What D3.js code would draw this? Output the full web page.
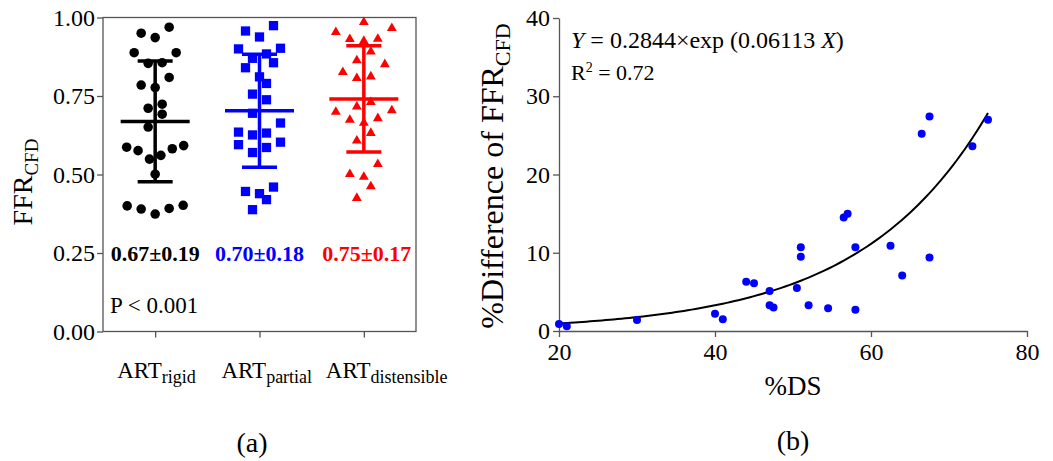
<!DOCTYPE html>
<html>
<head>
<meta charset="utf-8">
<script src="https://cdn.jsdelivr.net/npm/d3@7"></script>
<style>
body { margin: 0; background: #fff; }
text { font-family: "Liberation Serif", "Times New Roman", serif; fill: #000; }
</style>
</head>
<body>
<div id="chart"></div>
<script>
// (a) FFR_CFD for each arterial wall model
const groups = ["rigid", "partial", "distensible"];
const rigidFFR = [0.969, 0.950, 0.936, 0.888, 0.888, 0.854, 0.856, 0.809, 0.785, 0.777,
    0.711, 0.724, 0.692, 0.651, 0.587, 0.576, 0.592, 0.582, 0.549, 0.561,
    0.501, 0.400, 0.390, 0.374, 0.392, 0.402];
const partialFFR = [0.974, 0.957, 0.938, 0.900, 0.902, 0.884, 0.870, 0.856, 0.840, 0.811,
    0.790, 0.756, 0.738, 0.695, 0.664, 0.632, 0.626, 0.635, 0.603, 0.595,
    0.586, 0.570, 0.460, 0.446, 0.439, 0.420, 0.388];
const distensibleFFR = [0.985, 0.953, 0.966, 0.931, 0.925, 0.932, 0.891, 0.851, 0.863, 0.826,
    0.812, 0.807, 0.730, 0.716, 0.699, 0.704, 0.674, 0.679, 0.664, 0.632,
    0.608, 0.533, 0.501, 0.492, 0.462, 0.425];
const statLabels = ["0.67±0.19", "0.70±0.18", "0.75±0.17"];
const groupColors = ["#000000", "#0000ff", "#ff0000"];
const ffrTicks = [0, 0.25, 0.5, 0.75, 1];

// (b) %difference of FFR_CFD vs %DS
const dsPercent = [20.0, 21.0, 30.0, 40.0, 41.0, 44.0, 45.0, 47.0, 47.0, 47.5,
    50.5, 51.0, 51.0, 52.0, 54.5, 56.5, 57.0, 58.0, 58.0, 62.5,
    64.0, 66.5, 67.5, 67.5, 73.0, 75.0];
const diffPercent = [0.9, 0.6, 1.4, 2.2, 1.5, 6.3, 6.1, 5.1, 3.3, 3.0,
    5.5, 10.7, 9.5, 3.3, 2.9, 14.5, 15.0, 10.7, 2.7, 10.9,
    7.1, 25.2, 27.4, 9.4, 23.6, 27.0];
const fitA = 0.2844, fitB = 0.06113;
const dsTicks = [20, 40, 60, 80];
const diffTicks = [0, 10, 20, 30, 40];

const axisColor = "#555";

const svg = d3.select("#chart")
    .append("svg")
    .attr("width", 1053)
    .attr("height", 461);

// ---------- panel (a) ----------
const xL = d3.scalePoint().domain(groups).range([103, 416]).padding(0.5);
const yL = d3.scaleLinear().domain([0, 1]).range([331.5, 17.5]);

// spread points of similar value sideways (column scatter layout)
function swarmOffsets(values, bin, gap, maxSpan) {
    const idx = d3.range(values.length).sort((a, b) => values[a] - values[b]);
    const offsets = new Array(values.length);
    let row = [];
    const flush = () => {
        const n = row.length;
        const step = n > 1 ? Math.min(gap, maxSpan / (n - 1)) : 0;
        row.forEach((i, k) => {
            let slot;
            if (n % 2) slot = k === 0 ? 0 : (k % 2 ? -Math.ceil(k / 2) : k / 2);
            else slot = (k % 2 ? 1 : -1) * (Math.floor(k / 2) + 0.5);
            offsets[i] = slot * step;
        });
        row = [];
    };
    idx.forEach(i => {
        if (row.length && values[i] - values[row[0]] > bin) flush();
        row.push(i);
    });
    flush();
    return offsets;
}

const series = [rigidFFR, partialFFR, distensibleFFR];
const symbols = [
    d3.symbol().type(d3.symbolCircle).size(72),
    d3.symbol().type(d3.symbolSquare).size(86),
    d3.symbol().type(d3.symbolTriangle).size(42)
];

svg.append("rect")
    .attr("x", 103).attr("y", 17.5)
    .attr("width", 313).attr("height", 314)
    .attr("fill", "none")
    .attr("stroke", axisColor)
    .attr("stroke-width", 1.3);

series.forEach((vals, gi) => {
    const cx = xL(groups[gi]);
    const offs = swarmOffsets(vals, 0.046, 14, 57);
    const g = svg.append("g").attr("fill", groupColors[gi]);

    g.selectAll("path")
        .data(vals)
        .join("path")
        .attr("d", symbols[gi])
        .attr("transform", (d, i) => `translate(${cx + offs[i]},${yL(d)})`);

    // mean and SD bars
    const m = d3.mean(vals), s = d3.deviation(vals);
    const bars = svg.append("g")
        .attr("stroke", groupColors[gi])
        .attr("stroke-width", 3.5);
    bars.append("line").attr("x1", cx).attr("x2", cx).attr("y1", yL(m - s)).attr("y2", yL(m + s));
    bars.append("line").attr("x1", cx - 17.5).attr("x2", cx + 17.5).attr("y1", yL(m + s)).attr("y2", yL(m + s));
    bars.append("line").attr("x1", cx - 17.5).attr("x2", cx + 17.5).attr("y1", yL(m - s)).attr("y2", yL(m - s));
    bars.append("line").attr("x1", cx - 34.5).attr("x2", cx + 34.5).attr("y1", yL(m)).attr("y2", yL(m));

    svg.append("text")
        .attr("x", cx + (gi === 2 ? 3 : 0))
        .attr("y", 261)
        .attr("text-anchor", "middle")
        .attr("font-size", "22px")
        .attr("font-weight", "bold")
        .style("fill", groupColors[gi])
        .text(statLabels[gi]);
});

svg.append("g")
    .attr("transform", "translate(103,0)")
    .call(d3.axisLeft(yL).tickValues(ffrTicks).tickFormat(d3.format(".2f")).tickSize(6).tickPadding(2))
    .attr("font-size", 24)
    .call(g => g.select(".domain").remove())
    .call(g => g.selectAll(".tick line").attr("stroke", axisColor).attr("stroke-width", 1.3));

svg.append("g")
    .attr("transform", "translate(0,331.5)")
    .call(d3.axisBottom(xL).tickSize(6).tickFormat(""))
    .call(g => g.select(".domain").remove())
    .call(g => g.selectAll(".tick line").attr("stroke", axisColor).attr("stroke-width", 1.3));

const catLabels = svg.append("g").selectAll("text")
    .data(groups)
    .join("text")
    .attr("x", d => xL(d) - 38)
    .attr("y", 378)
    .attr("font-size", "23px");
catLabels.append("tspan").text("ART");
catLabels.append("tspan").attr("dy", 5).attr("font-size", "18px").text(d => d);

svg.append("text")
    .attr("x", 110).attr("y", 313)
    .attr("font-size", "23px")
    .text("P < 0.001");

const yLabelL = svg.append("text")
    .attr("transform", "translate(32,182) rotate(-90)")
    .attr("text-anchor", "middle")
    .attr("font-size", "28px");
yLabelL.append("tspan").text("FFR");
yLabelL.append("tspan").attr("dy", 6).attr("font-size", "19px").text("CFD");

svg.append("text")
    .attr("x", 252).attr("y", 452)
    .attr("text-anchor", "middle")
    .attr("font-size", "28px")
    .text("(a)");

// ---------- panel (b) ----------
const xR = d3.scaleLinear().domain([20, 80]).range([559, 1027]);
const yR = d3.scaleLinear().domain([0, 40]).range([331, 18]);

svg.append("g")
    .attr("transform", "translate(559,0)")
    .call(d3.axisLeft(yR).tickValues(diffTicks).tickSize(6).tickSizeOuter(0).tickPadding(3))
    .attr("font-size", 24)
    .call(g => g.selectAll(".domain, .tick line").attr("stroke", axisColor).attr("stroke-width", 1.3));

svg.append("g")
    .attr("transform", "translate(0,331)")
    .call(d3.axisBottom(xR).tickValues(dsTicks).tickSize(6).tickSizeOuter(0).tickPadding(6))
    .attr("font-size", 24)
    .call(g => g.selectAll(".domain, .tick line").attr("stroke", axisColor).attr("stroke-width", 1.3));

const fitLine = d3.line()
    .x(d => xR(d))
    .y(d => yR(fitA * Math.exp(fitB * d)));

svg.append("path")
    .datum(d3.range(20, 75.01, 0.5))
    .attr("d", fitLine)
    .attr("fill", "none")
    .attr("stroke", "#000")
    .attr("stroke-width", 2);

svg.append("g")
    .selectAll("circle")
    .data(dsPercent)
    .join("circle")
    .attr("cx", d => xR(d))
    .attr("cy", (d, i) => yR(diffPercent[i]))
    .attr("r", 4)
    .attr("fill", "#0000ff");

const eq = svg.append("text")
    .attr("x", 571).attr("y", 48)
    .attr("font-size", "24px")
    .style("white-space", "pre");
eq.append("tspan").attr("font-style", "italic").text("Y");
eq.append("tspan").text(" = 0.2844×exp (0.06113 ");
eq.append("tspan").attr("font-style", "italic").text("X");
eq.append("tspan").text(")");

const r2 = svg.append("text")
    .attr("x", 571).attr("y", 80)
    .attr("font-size", "22px")
    .style("white-space", "pre");
r2.append("tspan").text("R");
r2.append("tspan").attr("dy", -8).attr("font-size", "14px").text("2");
r2.append("tspan").attr("dy", 8).text(" = 0.72");

const yLabelR = svg.append("text")
    .attr("transform", "translate(503,176) rotate(-90)")
    .attr("text-anchor", "middle")
    .attr("font-size", "32px");
yLabelR.append("tspan").text("%Difference of FFR");
yLabelR.append("tspan").attr("dy", 7).attr("font-size", "22px").text("CFD");

svg.append("text")
    .attr("x", 793).attr("y", 395)
    .attr("text-anchor", "middle")
    .attr("font-size", "27px")
    .text("%DS");

svg.append("text")
    .attr("x", 793).attr("y", 450)
    .attr("text-anchor", "middle")
    .attr("font-size", "28px")
    .text("(b)");
</script>
</body>
</html>
